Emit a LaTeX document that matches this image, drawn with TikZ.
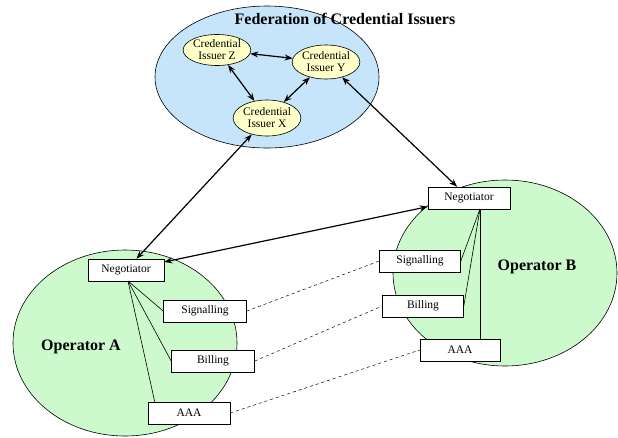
\documentclass[tikz,border=0pt]{standalone}
\usepackage{fontspec}
\setmainfont{Liberation Serif}
\usetikzlibrary{shapes.geometric,arrows.meta}
\definecolor{fedblue}{RGB}{198,228,250}
\definecolor{opgreen}{RGB}{204,250,204}
\definecolor{issyellow}{RGB}{255,255,200}
\begin{document}
\begin{tikzpicture}[x=1pt, y=-1pt, every node/.style={inner sep=0pt, align=center, font=\fontsize{11.5}{12}\selectfont}]
		\tikzstyle{realm} = [ellipse, draw, line width=0.6pt]
		\tikzstyle{issuer} = [ellipse, draw, fill=issyellow, line width=0.6pt]
		\tikzstyle{module} = [rectangle, draw, fill=white, line width=0.6pt, minimum height=22pt]
		\tikzstyle{title} = [font=\fontsize{16}{18}\selectfont\bfseries]
		\tikzstyle{link} = [{Stealth[length=8pt,width=6pt]}-{Stealth[length=8pt,width=6pt]}, line width=1.2pt]
		
		\useasboundingbox (0,0) rectangle (618,437);
		
		\node[realm, fill=fedblue, minimum width=224pt, minimum height=142pt] (fed) at (267,77) {};
		\node[realm, fill=opgreen, minimum width=224pt, minimum height=186pt] (opA) at (125,343) {};
		\node[realm, fill=opgreen, minimum width=224pt, minimum height=186pt] (opB) at (505,273) {};
		
		\node[title] (fedlabel) at (345,19) {Federation of Credential Issuers};
		\node[title] (opAlabel) at (81,347) {Operator A};
		\node[title] (opBlabel) at (537,267) {Operator B};
		
		\node[issuer, minimum width=60pt, minimum height=31pt] (issZ) at (217,50) {Credential\\Issuer Z};
		\node[issuer, minimum width=59pt, minimum height=34pt] (issY) at (326,62) {Credential\\Issuer Y};
		\node[issuer, minimum width=60pt, minimum height=36pt] (issX) at (267,118) {Credential\\Issuer X};
		
		\node[module, minimum width=76pt] (negA) at (126,270) {Negotiator};
		\node[module, minimum width=83pt] (sigA) at (205,311) {Signalling};
		\node[module, minimum width=83pt] (bilA) at (213,361) {Billing};
		\node[module, minimum width=82pt] (aaaA) at (189,413) {AAA};
		
		\node[module, minimum width=82pt] (negB) at (469,198) {Negotiator};
		\node[module, minimum width=81pt] (sigB) at (420,261) {Signalling};
		\node[module, minimum width=81pt] (bilB) at (423,306) {Billing};
		\node[module, minimum width=80pt] (aaaB) at (460,350) {AAA};
		
		\coordinate (hubA) at (128,281);
		\coordinate (hubB) at (480,209);
		
		\draw[link] (issZ) -- (issY);
		\draw[link] (issZ) -- (issX);
		\draw[link] (issY) -- (issX);
		\draw[link] (issX) -- (negA);
		\draw[link] (issY) -- (negB);
		\draw[link] (negA) -- (negB);
		
		\draw[line width=0.6pt] (hubA) -- (sigA.west);
		\draw[line width=0.6pt] (hubA) -- (bilA.west);
		\draw[line width=0.6pt] (hubA) -- ([xshift=7pt]aaaA.north west);
		\draw[line width=0.6pt] (hubB) -- (sigB.east);
		\draw[line width=0.6pt] (hubB) -- (bilB.east);
		\draw[line width=0.6pt] (hubB) -- (aaaB.north -| hubB);
		
		\draw[dashed, line width=0.5pt] (sigA.east) -- (sigB.west);
		\draw[dashed, line width=0.5pt] (bilA.east) -- (bilB.west);
		\draw[dashed, line width=0.5pt] (aaaA.east) -- (aaaB.west);
	\end{tikzpicture}
\end{document}
